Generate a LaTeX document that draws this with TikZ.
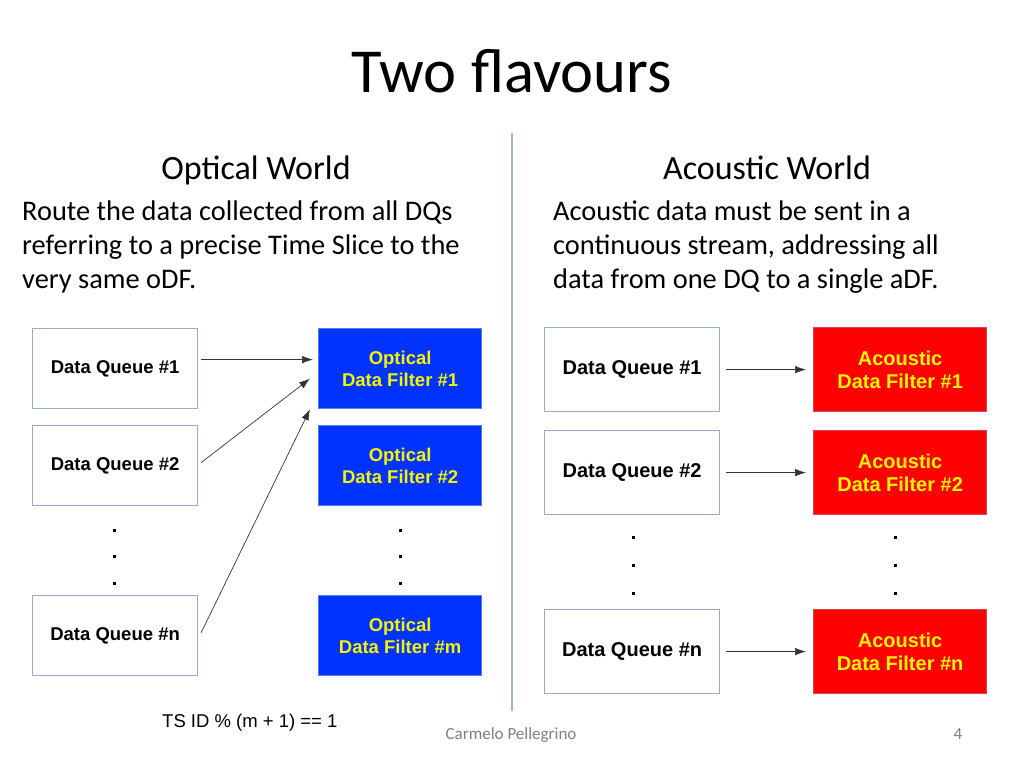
\documentclass[tikz,border=0pt]{standalone}
\usepackage{fontspec}
\setmainfont{Carlito}
\newfontfamily\arialfont{Liberation Sans}
\usetikzlibrary{math,arrows.meta}
\definecolor{boxline}{RGB}{150,172,205}
\definecolor{divline}{RGB}{155,182,215}
\definecolor{ofblue}{RGB}{0,51,255}
\definecolor{afred}{RGB}{255,0,0}
\definecolor{fltext}{RGB}{245,245,0}
\definecolor{footgray}{RGB}{128,128,128}

\begin{document}
\begin{tikzpicture}[x=1pt,y=-1pt,
    queue/.style={draw=boxline, fill=white, line width=1.2pt, inner sep=0pt, anchor=north west},
    ofilter/.style={queue, draw=boxline!60!ofblue, fill=ofblue, text=fltext, align=center},
    afilter/.style={queue, draw=boxline!40!afred, fill=afred, text=fltext, align=center},
    conn/.style={-{Latex[length=11pt,width=7.5pt]}, line width=0.7pt, draw=black!80},
    body/.style={anchor=base west, align=left, font=\fontsize{28.4}{34}\selectfont, inner sep=0pt}]
  \useasboundingbox (0,0) rectangle (1024,768);
  \tikzmath{\lw = 165; \lh = 80; \rw = 175; \rh = 84;}

  % title and columns
  \node[anchor=base, inner sep=0pt, font=\fontsize{62.6}{70}\selectfont] (title) at (512,92) {Two flavours};
  \draw[divline, line width=1.8pt] (512,133) -- (512,711);
  \node[anchor=base, inner sep=0pt, font=\fontsize{34}{40}\selectfont] (ohead) at (256,179) {Optical World};
  \node[anchor=base, inner sep=0pt, font=\fontsize{34}{40}\selectfont] (ahead) at (767,179) {Acoustic World};
  % base of the last line
  \node[body] (otext) at (22,288) {Route the data collected from all DQs\\referring to a precise Time Slice to the\\very same oDF.};
  \node[body] (atext) at (553,288) {Acoustic data must be sent in a\\continuous stream, addressing all\\data from one DQ to a single aDF.};

  % optical side
  \begin{scope}[every node/.append style={minimum width=\lw pt, minimum height=\lh pt, font=\arialfont\bfseries\fontsize{18.5}{22}\selectfont}]
    \node[queue] (oq1) at (32,328) {Data Queue \#1};
    \node[queue] (oq2) at (32,425) {Data Queue \#2};
    \node[queue] (oqn) at (32,595) {Data Queue \#n};
    \node[ofilter, minimum width=163pt] (of1) at (318,328) {Optical\\Data Filter \#1};
    \node[ofilter, minimum width=163pt] (of2) at (318,425) {Optical\\Data Filter \#2};
    \node[ofilter, minimum width=163pt] (ofm) at (318,595) {Optical\\Data Filter \#m};
  \end{scope}
  \foreach \y in {530,556,583} {
    \fill (112.5,\y-1.5) rectangle ++(3,3);
    \fill (398.5,\y-1.5) rectangle ++(3,3);
  }
  \draw[conn] ([xshift=3pt,yshift=9pt]oq1.east) -- ([xshift=-5pt,yshift=9pt]of1.west);
  \draw[conn] ([xshift=3pt,yshift=3pt]oq2.east) -- ([xshift=-8pt,yshift=-10pt]of1.west);
  \draw[conn] ([xshift=3pt,yshift=3pt]oqn.east) -- ([xshift=-8pt]of1.south west);
  \node[anchor=base west, inner sep=0pt, font=\arialfont\fontsize{18.5}{22}\selectfont] (tsid) at (162,727) {TS ID \% (m + 1) == 1};

  % acoustic side
  \begin{scope}[every node/.append style={minimum width=\rw pt, minimum height=\rh pt, font=\arialfont\bfseries\fontsize{20}{23}\selectfont}]
    \node[queue] (aq1) at (544,327) {Data Queue \#1};
    \node[queue] (aq2) at (544,430) {Data Queue \#2};
    \node[queue] (aqn) at (544,609) {Data Queue \#n};
    \node[afilter, minimum width=173pt] (af1) at (813,327) {Acoustic\\Data Filter \#1};
    \node[afilter, minimum width=173pt] (af2) at (813,430) {Acoustic\\Data Filter \#2};
    \node[afilter, minimum width=173pt] (afn) at (813,609) {Acoustic\\Data Filter \#n};
  \end{scope}
  \foreach \y in {537,565,593} {
    \fill (631.5,\y-1.5) rectangle ++(3,3);
    \fill (893.5,\y-1.5) rectangle ++(3,3);
  }
  \foreach \i in {1,2,n} {
    \draw[conn] ([xshift=6pt]aq\i.east) -- ([xshift=-7pt]af\i.west);
  }

  % footer
  \node[anchor=base, inner sep=0pt, text=footgray, font=\fontsize{17}{20}\selectfont] (author) at (511,739) {Carmelo Pellegrino};
  \node[anchor=base, inner sep=0pt, text=footgray, font=\fontsize{17}{20}\selectfont] (page) at (958,739) {4};
\end{tikzpicture}
\end{document}
